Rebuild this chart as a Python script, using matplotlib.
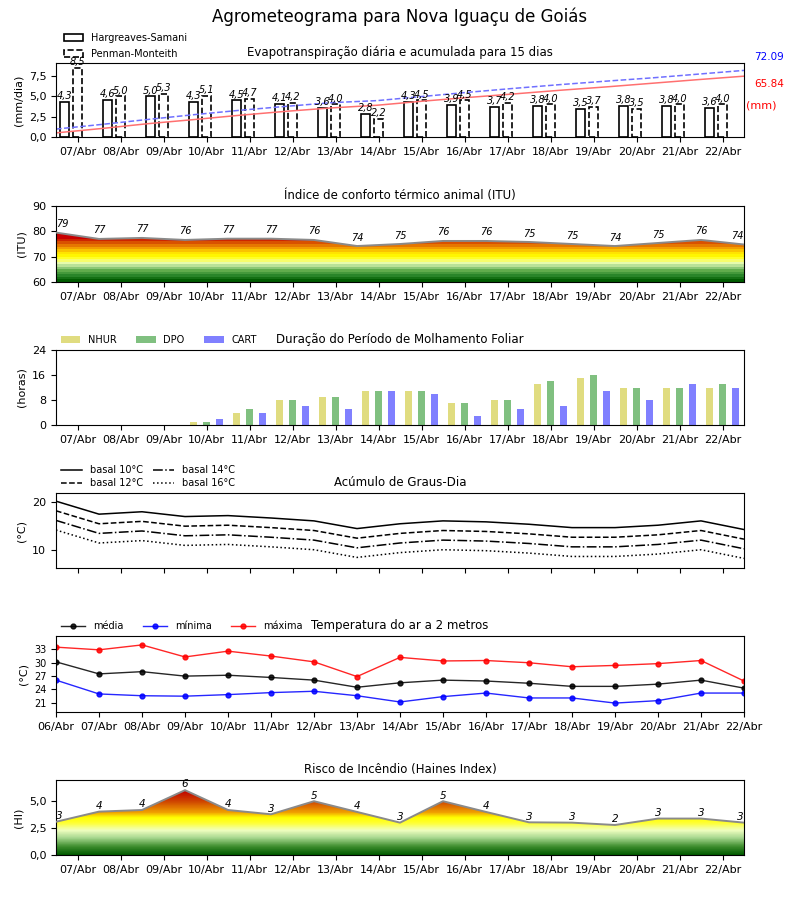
import numpy as np
import matplotlib
matplotlib.use('Agg')
import matplotlib.pyplot as plt
from matplotlib.colors import LinearSegmentedColormap
from matplotlib.patches import Patch, Rectangle
from matplotlib.lines import Line2D
from matplotlib.ticker import FuncFormatter

# ---------------- data ----------------
fig_title = 'Agrometeograma para Nova Iguaçu de Goiás'
days16 = ['07/Abr', '08/Abr', '09/Abr', '10/Abr', '11/Abr', '12/Abr', '13/Abr', '14/Abr',
          '15/Abr', '16/Abr', '17/Abr', '18/Abr', '19/Abr', '20/Abr', '21/Abr', '22/Abr']
days17 = ['06/Abr'] + days16

et_hs = [4.3, 4.6, 5.0, 4.3, 4.5, 4.1, 3.6, 2.8, 4.3, 3.9, 3.7, 3.8, 3.5, 3.8, 3.8, 3.6]
et_pm = [8.5, 5.0, 5.3, 5.1, 4.7, 4.2, 4.0, 2.2, 4.5, 4.5, 4.2, 4.0, 3.7, 3.5, 4.0, 4.0]
acc_pm_total = 72.09
acc_hs_total = 65.84

itu = [79.5, 77.0, 77.4, 76.6, 77.1, 77.1, 76.6, 74.2, 75.0, 76.2, 76.2, 75.8, 75.0, 74.2, 75.4, 76.6, 74.8]

nhur = [0, 0, 0, 1, 4, 8, 9, 11, 11, 7, 8, 13, 15, 12, 12, 12]
dpo = [0, 0, 0, 1, 5, 8, 9, 11, 11, 7, 8, 14, 16, 12, 12, 13]
cart = [0, 0, 0, 2, 4, 6, 5, 11, 10, 3, 5, 6, 11, 8, 13, 12]

basals = [10, 12, 14, 16]

tmax = [33.5, 32.9, 34.0, 31.3, 32.6, 31.5, 30.2, 26.9, 31.2, 30.4, 30.5, 30.0, 29.1, 29.4, 29.8, 30.5, 25.9]
tmed = [30.2, 27.5, 28.0, 27.0, 27.2, 26.7, 26.1, 24.5, 25.5, 26.1, 25.9, 25.4, 24.7, 24.7, 25.2, 26.1, 24.3]
tmin = [26.1, 23.0, 22.6, 22.5, 22.85, 23.3, 23.6, 22.6, 21.2, 22.4, 23.2, 22.1, 22.1, 20.95, 21.5, 23.2, 23.2]

haines = [3.1, 4.05, 4.2, 6.05, 4.2, 3.8, 5.02, 4.02, 3.02, 5.02, 4.02, 3.05, 3.02, 2.8, 3.4, 3.4, 3.02]

# ---------------- style ----------------
plt.rcParams['font.family'] = ['DejaVu Sans']
plt.rcParams['font.size'] = 8
plt.rcParams['xtick.labelsize'] = 8
plt.rcParams['ytick.labelsize'] = 8
plt.rcParams['axes.titlesize'] = 8.5

fig = plt.figure(figsize=(8, 9), dpi=100)
fig.suptitle(fig_title, fontsize=12, y=0.992)

L, W = 0.07, 0.86
def mk(top, bot):
    return fig.add_axes([L, 1 - bot / 900, W, (bot - top) / 900])

n16 = len(days16)
n17 = len(days17)
xc = np.arange(n16) + 0.5
xp = np.arange(n17)

def day_ticks(ax):
    ax.set_xlim(0, n16)
    ax.set_xticks(xc)
    ax.set_xticklabels(days16)

comma = FuncFormatter(lambda v, p: ('%.1f' % v).replace('.', ','))

# ---------- panel 1: ET ----------
ax1 = mk(63, 137)
w = 0.22
ax1.bar(xc - 0.3, et_hs, width=w, facecolor='white', edgecolor='black', linewidth=1.2)
ax1.bar(xc, et_pm, width=w, facecolor='white', edgecolor='black', linewidth=1.2, linestyle='--')
for xx, v in zip(xc - 0.3, et_hs):
    ax1.text(xx, v + 0.1, ('%.1f' % v).replace('.', ','), ha='center', va='bottom', fontsize=7, style='italic')
for xx, v in zip(xc, et_pm):
    ax1.text(xx, v + 0.1, ('%.1f' % v).replace('.', ','), ha='center', va='bottom', fontsize=7, style='italic')
ytop = max(et_pm) * 1.07
ax1.set_ylim(0, ytop)
acc_pm = np.cumsum(et_pm) * acc_pm_total / np.sum(et_pm)
acc_hs = np.cumsum(et_hs) * acc_hs_total / np.sum(et_hs)
k = 0.9 * ytop / acc_pm_total
xa = np.linspace(0, n16, n16)
ax1.plot(xa, acc_hs * k, color='#ff7070', lw=1.1)
ax1.plot(xa, acc_pm * k, color='#7070ff', lw=1.1, ls='--')
ax1.text(1.036, 1.08, '%.2f' % acc_pm_total, color='blue', transform=ax1.transAxes, ha='center', va='center', fontsize=7.5)
ax1.text(1.036, 0.716, '%.2f' % acc_hs_total, color='red', transform=ax1.transAxes, ha='center', va='center', fontsize=7.5)
ax1.text(1.025, 0.43, '(mm)', color='red', transform=ax1.transAxes, ha='center', va='center', fontsize=8)
ax1.set_yticks([0, 2.5, 5, 7.5])
ax1.yaxis.set_major_formatter(comma)
day_ticks(ax1)
ax1.set_ylabel('(mm/dia)')
ax1.set_title('Evapotranspiração diária e acumulada para 15 dias', pad=5)
h1 = [Rectangle((0, 0), 1, 1, facecolor='white', edgecolor='black', lw=1.2),
      Rectangle((0, 0), 1, 1, facecolor='white', edgecolor='black', lw=1.2, ls='--')]
ax1.legend(h1, ['Hargreaves-Samani', 'Penman-Monteith'], loc='lower left', bbox_to_anchor=(0.006, 1.0),
           frameon=False, fontsize=7, handlelength=2.0, handleheight=0.65, borderaxespad=0, labelspacing=0.65)

# gradient helper
def gradient_fill(ax, x, y, y0, y1, cmap, nlev):
    vals = np.linspace(y0, y1, nlev).reshape(-1, 1)
    im = ax.imshow(vals, extent=[x[0], x[-1], y0, y1], origin='lower', aspect='auto',
                   cmap=cmap, vmin=y0, vmax=y1, interpolation='nearest', zorder=1)
    poly = ax.fill_between(x, y, y0, facecolor='none', edgecolor='none')
    im.set_clip_path(poly.get_paths()[0], transform=ax.transData)
    ax.plot(x, y, color='#8a8a8a', lw=1.4, zorder=3)

# ---------- panel 2: ITU ----------
ax2 = mk(206, 282)
itu_cmap = LinearSegmentedColormap.from_list('itu', [
    (0.0, '#005c00'), (0.07, '#2a862a'), (0.14, '#62ae4e'), (0.19, '#a4d68c'),
    (0.24, '#e6fbb0'), (0.29, '#ffff50'), (0.33, '#ffff00'), (0.38, '#ffe400'),
    (0.43, '#f8b400'), (0.48, '#e87a00'), (0.53, '#d44400'), (0.58, '#c80000'), (1.0, '#c80000')], N=30)
gradient_fill(ax2, xp, np.array(itu), 60, 90, itu_cmap, 30)
for i, v in enumerate(itu):
    ha = 'left' if i == 0 else ('right' if i == n17 - 1 else 'center')
    ax2.annotate('%d' % int(v), (xp[i], v), xytext=(0, 2.5), textcoords='offset points',
                 ha=ha, va='bottom', fontsize=7, style='italic')
ax2.set_ylim(60, 90)
ax2.set_yticks([60, 70, 80, 90])
day_ticks(ax2)
ax2.set_ylabel('(ITU)')
ax2.set_title('Índice de conforto térmico animal (ITU)', pad=5)

# ---------- panel 3: leaf wetness ----------
ax3 = mk(350, 425)
bw = 0.15
ax3.bar(xc - 0.3, nhur, width=bw, color='#e0dc80', label='NHUR')
ax3.bar(xc, dpo, width=bw, color='#80c080', label='DPO')
ax3.bar(xc + 0.3, cart, width=bw, color='#8080ff', label='CART')
ax3.set_ylim(0, 24)
ax3.set_yticks([0, 8, 16, 24])
day_ticks(ax3)
ax3.set_ylabel('(horas)')
ax3.set_title('Duração do Período de Molhamento Foliar', pad=5)
ax3.legend(loc='lower left', bbox_to_anchor=(0.0, 1.0), ncol=3, frameon=False, fontsize=7,
           handlelength=2.0, handleheight=0.7, borderaxespad=0.1, columnspacing=2.0)

# ---------- panel 4: degree-days ----------
ax4 = mk(493, 568)
styles = ['-', '--', '-.', ':']
tm = np.array(tmed)
for b, ls in zip(basals, styles):
    ax4.plot(xp, tm - b, color='black', lw=1.1, ls=ls, label='basal %d°C' % b)
ax4.set_xlim(0, n16)
ax4.set_ylim(tm.min() - basals[-1] - 2, tm.max() - basals[0] + 1.7)
ax4.set_yticks([10, 20])
ax4.set_xticks(xc)
ax4.set_xticklabels([])
ax4.set_ylabel('(°C)')
ax4.set_title('Acúmulo de Graus-Dia', pad=5)
ax4.legend(loc='lower left', bbox_to_anchor=(0.0, 1.0), ncol=2, frameon=False, fontsize=7,
           handlelength=2.2, borderaxespad=0.1, labelspacing=0.3, columnspacing=1.0)

# ---------- panel 5: temperature ----------
ax5 = mk(636, 712)
ax5.plot(xp, tmed, color='black', lw=1, marker='o', ms=3.5, label='média', alpha=0.85)
ax5.plot(xp, tmin, color='blue', lw=1, marker='o', ms=3.5, label='mínima', alpha=0.85)
ax5.plot(xp, tmax, color='red', lw=1, marker='o', ms=3.5, label='máxima', alpha=0.85)
ax5.set_xlim(0, n16)
allt = np.array(tmax + tmin)
ax5.set_ylim(allt.min() - 2, allt.max() + 2)
ax5.set_yticks([21, 24, 27, 30, 33])
ax5.set_xticks(xp)
ax5.set_xticklabels(days17)
ax5.tick_params(axis='y', labelsize=7)
ax5.set_ylabel('(°C)')
ax5.set_title('Temperatura do ar a 2 metros', pad=5)
ax5.legend(loc='lower left', bbox_to_anchor=(0.0, 1.0), ncol=3, frameon=False, fontsize=7,
           handlelength=2.5, borderaxespad=0.1, columnspacing=2.0)

# ---------- panel 6: Haines ----------
ax6 = mk(780, 855)
hi_cmap = LinearSegmentedColormap.from_list('hi', [
    (0.0, '#005a00'), (0.11, '#3c8c2c'), (0.23, '#a8d890'), (0.33, '#f0ffc0'),
    (0.43, '#ffff30'), (0.5, '#ffff00'), (0.57, '#f0a000'), (0.71, '#d04800'),
    (0.86, '#c00000'), (1.0, '#c00000')], N=256)
gradient_fill(ax6, xp, np.array(haines), 0, 7, hi_cmap, 256)
for i, v in enumerate(haines):
    ha = 'left' if i == 0 else ('right' if i == n17 - 1 else 'center')
    ax6.annotate('%d' % int(v), (xp[i], v), xytext=(0, 0.5), textcoords='offset points',
                 ha=ha, va='bottom', fontsize=7.5, style='italic')
ax6.set_ylim(0, 7)
ax6.set_yticks([0, 2.5, 5.0])
ax6.yaxis.set_major_formatter(comma)
day_ticks(ax6)
ax6.set_ylabel('(HI)')
ax6.set_title('Risco de Incêndio (Haines Index)', pad=5)

fig.savefig('out.png', dpi=100)
